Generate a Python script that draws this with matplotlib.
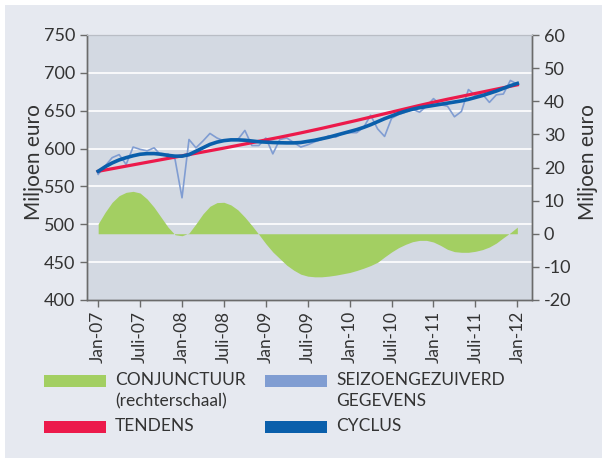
"""Omzet: seizoengezuiverd, tendens, cyclus en conjunctuur (2007-2012)."""

import matplotlib
matplotlib.use("Agg")
import matplotlib.pyplot as plt
from matplotlib.patches import Rectangle
import numpy as np

# Data (maandelijks, jan-07 t/m jan-12)
months = np.arange(61)

seizoen = [566, 577, 588, 592, 579, 602, 599, 597, 601, 591,
           593, 586, 535, 612, 601, 610, 620, 614, 610, 611,
           612, 624, 604, 604, 614, 593, 612, 614, 608, 602,
           605, 609, 612, 617, 615, 620, 621, 621, 628, 644,
           626, 616, 640, 645, 648, 652, 648, 656, 666, 658,
           656, 642, 649, 678, 670, 672, 661, 671, 672, 690,
           685]

tendens = [570.0, 571.7, 573.4, 575.1, 576.8, 578.5, 580.2, 581.9, 583.6, 585.3,
           587.0, 588.7, 590.4, 592.1, 593.8, 595.5, 597.2, 598.9, 600.6, 602.4,
           604.2, 606.0, 607.8, 609.6, 611.4, 613.2, 615.0, 616.9, 618.8, 620.7,
           622.7, 624.7, 626.7, 628.8, 630.9, 633.0, 635.1, 637.2, 639.4, 641.6,
           643.8, 646.0, 648.2, 650.4, 652.6, 654.8, 657.0, 659.1, 661.2, 663.2,
           665.2, 667.1, 669.0, 670.9, 672.8, 674.7, 676.6, 678.5, 680.4, 682.3,
           684.2]

cyclus = [570.0, 576.0, 581.0, 585.0, 588.0, 590.5, 592.5, 593.3, 593.4, 592.5,
          591.0, 590.0, 590.0, 592.0, 596.5, 601.0, 605.5, 608.5, 610.5, 611.5,
          611.5, 611.0, 610.0, 609.0, 608.5, 608.0, 607.7, 607.5, 607.5, 608.0,
          609.5, 611.0, 613.0, 615.0, 617.5, 620.0, 622.5, 625.0, 628.0, 631.5,
          635.5, 639.5, 643.0, 646.5, 649.5, 652.0, 654.0, 655.5, 657.0, 658.5,
          660.0, 661.5, 663.0, 665.0, 667.5, 670.0, 673.0, 676.0, 679.5, 683.0,
          686.0]

conjunctuur = [3.0, 6.5, 9.5, 11.5, 12.5, 12.8, 12.3, 10.5, 8.0, 5.0,
               2.0, -0.3, -0.6, 0.2, 3.0, 6.0, 8.3, 9.4, 9.5, 8.7,
               7.2, 5.0, 2.5, -0.2, -3.0, -5.5, -7.5, -9.5, -11.0, -12.2,
               -12.8, -13.0, -13.0, -12.8, -12.5, -12.1, -11.7, -11.1, -10.4, -9.6,
               -8.6, -7.0, -5.5, -4.2, -3.2, -2.4, -2.0, -2.0, -2.5, -3.5,
               -4.7, -5.4, -5.6, -5.6, -5.3, -4.8, -4.0, -2.8, -1.2, 0.3,
               2.0]

tick_pos = np.arange(0, 61, 6)
tick_labels = ["Jan-07", "Juli-07", "Jan-08", "Juli-08", "Jan-09", "Juli-09",
               "Jan-10", "Juli-10", "Jan-11", "Juli-11", "Jan-12"]

# Kleuren
GREEN = "#a3cf62"
LIGHTBLUE = "#809dd2"
RED = "#ec1a4b"
DARKBLUE = "#0a5fab"
TEXT = "#333333"
AXIS = "#6b6b6b"
OUTER = "#e6e9f0"
INNER = "#d3d9e2"

plt.rcParams["font.family"] = ["Lato", "DejaVu Sans"]
plt.rcParams["axes.unicode_minus"] = False

W, H = 605, 458
fig = plt.figure(figsize=(W / 100, H / 100), dpi=100, facecolor="white")
fig.patches.append(Rectangle((5 / W, 0), 597 / W, 1 - 5 / H, transform=fig.transFigure,
                             facecolor=OUTER, edgecolor="none", zorder=-10))

# Plotgebied in pixels: x 87-532, y 35-300
ax = fig.add_axes([87 / W, 1 - 300 / H, 445 / W, 265 / H])
ax2 = ax.twinx()

# Conjunctuur als vlak op de rechteras
ax2.fill_between(months, 0, conjunctuur, color=GREEN, linewidth=0, zorder=1)
ax2.set_ylim(-20, 60)
ax2.set_yticks(np.arange(-20, 61, 10))

# Lijnen op de linkeras, boven het vlak
ax.set_zorder(ax2.get_zorder() + 1)
ax.patch.set_visible(False)
ax2.patch.set_visible(True)
ax2.patch.set_facecolor(INNER)
ax.plot(months, seizoen, color=LIGHTBLUE, linewidth=1.2, zorder=3)
ax.plot(months, tendens, color=RED, linewidth=2.3, zorder=4)
ax.plot(months, cyclus, color=DARKBLUE, linewidth=2.6, zorder=5)

ax.set_ylim(400, 750)
ax.set_yticks(np.arange(400, 751, 50))
ax.set_xlim(-1.6, 62.1)
ax.set_xticks(tick_pos)
ax.set_xticklabels(tick_labels, rotation=90)

# Witte rasterlijnen (onder het groene vlak)
for v in range(450, 750, 50):
    y2 = -20 + (v - 400) * 80 / 350
    ax2.axhline(y2, color="white", linewidth=1.2, zorder=0.5)

for a in (ax, ax2):
    for side in ("left", "right", "bottom"):
        a.spines[side].set_color(AXIS)
        a.spines[side].set_linewidth(1.0)
    a.spines["top"].set_color("#b9bdc5")
    a.tick_params(colors=AXIS, labelcolor=TEXT, labelsize=13, length=5, width=1.0)

ax.tick_params(axis="x", labelsize=12.5, pad=3)
ax.set_ylabel("Miljoen euro", fontsize=15, color=TEXT)
ax.yaxis.set_label_coords(-0.097, 0.52)
ax2.set_ylabel("Miljoen euro", fontsize=15, color=TEXT)
ax2.yaxis.set_label_coords(1.103, 0.52)

# Legenda onderaan
legend_items = [
    (44, 375, GREEN, "CONJUNCTUUR\n(rechterschaal)"),
    (265, 375, LIGHTBLUE, "SEIZOENGEZUIVERD\nGEGEVENS"),
    (44, 421, RED, "TENDENS"),
    (265, 421, DARKBLUE, "CYCLUS"),
]
for x0, y0, color, label in legend_items:
    fig.patches.append(Rectangle((x0 / W, 1 - (y0 + 12) / H), 62 / W, 12 / H,
                                 transform=fig.transFigure, facecolor=color,
                                 edgecolor="none"))
    fig.text((x0 + 71) / W, 1 - (y0 - 3) / H, label, fontsize=12.5, color=TEXT,
             va="top", ha="left", linespacing=1.4)

fig.savefig("out.png", dpi=100, facecolor="white")
